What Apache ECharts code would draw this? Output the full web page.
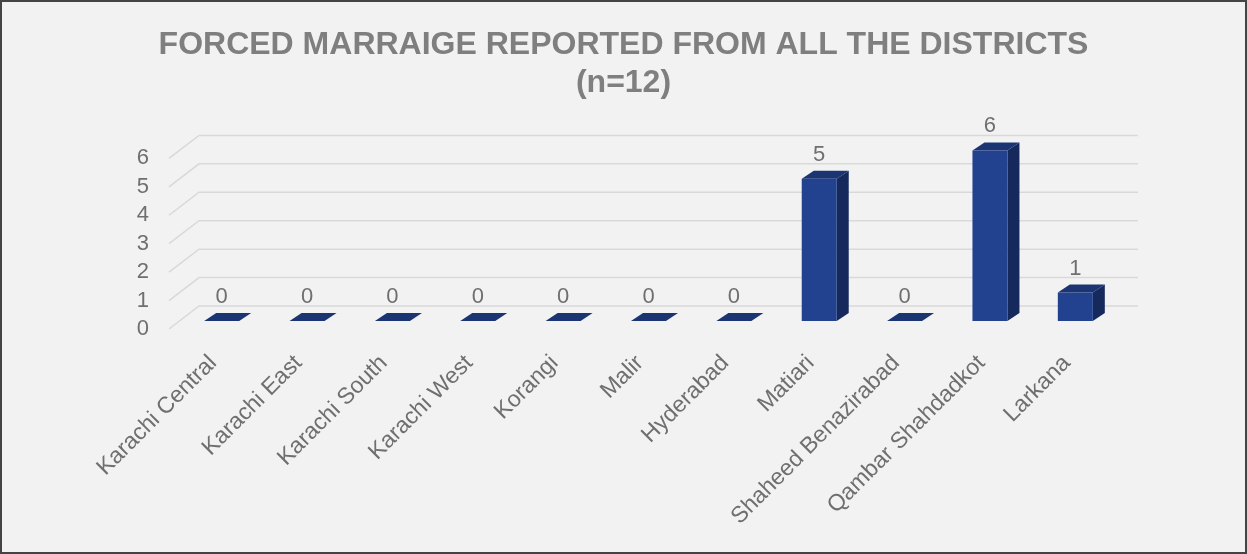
<!DOCTYPE html>
<html>
<head>
<meta charset="utf-8">
<script src="https://cdn.jsdelivr.net/npm/echarts@6/dist/echarts.min.js"></script>
<style>
  html, body { margin: 0; padding: 0; background: #f2f2f2; }
  #chart { width: 1247px; height: 554px; box-sizing: border-box; border: 2px solid #444; }
</style>
</head>
<body>
<div id="chart"></div>
<script>
// District names along the x axis
const districts = [
  'Karachi Central', 'Karachi East', 'Karachi South', 'Karachi West', 'Korangi',
  'Malir', 'Hyderabad', 'Matiari', 'Shaheed Benazirabad', 'Qambar Shahdadkot', 'Larkana'
];
// Reported forced-marriage cases per district
const cases = [0, 0, 0, 0, 0, 0, 0, 5, 0, 6, 1];
// Value-axis ticks
const yTicks = [0, 1, 2, 3, 4, 5, 6];

const FONT = '"Liberation Sans", Arial, sans-serif';
const TEXT = '#6f6f6f';

// Oblique projection offsets: back wall and bar depth
const WALL_DX = 20, WALL_DY = -15;   // bar plane -> back wall
const FRONT_DX = -10, FRONT_DY = 8;  // bar plane -> front edge
const DEPTH_DX = 12, DEPTH_DY = -8;  // bar depth

const chart = echarts.init(document.getElementById('chart'), null, { renderer: 'canvas' });

function wallItem(params, api) {
  const cs = params.coordSys;
  const y = api.coord([0, api.value(1)])[1];
  return {
    type: 'polyline',
    shape: {
      points: [
        [cs.x + FRONT_DX, y + FRONT_DY],
        [cs.x + WALL_DX, y + WALL_DY],
        [cs.x + cs.width + WALL_DX, y + WALL_DY]
      ]
    },
    style: { stroke: '#d9d9d9', lineWidth: 1.5, fill: null },
    silent: true
  };
}

function barItem(params, api) {
  const idx = api.value(0);
  const val = api.value(1);
  const base = api.coord([idx, 0]);
  const top = api.coord([idx, val]);
  const w = api.size([1, 0])[0] * 0.41;
  const x0 = base[0] - w / 2, x1 = base[0] + w / 2;
  const yb = base[1], yt = top[1];
  const children = [];
  if (val > 0) {
    children.push({
      type: 'polygon',
      shape: { points: [[x1, yb], [x1 + DEPTH_DX, yb + DEPTH_DY], [x1 + DEPTH_DX, yt + DEPTH_DY], [x1, yt]] },
      style: { fill: '#15295c' }
    });
  }
  children.push({
    type: 'polygon',
    shape: { points: [[x0, yt], [x1, yt], [x1 + DEPTH_DX, yt + DEPTH_DY], [x0 + DEPTH_DX, yt + DEPTH_DY]] },
    style: { fill: '#1b3472' }
  });
  if (val > 0) {
    children.push({
      type: 'rect',
      shape: { x: x0, y: yt, width: w, height: yb - yt },
      style: { fill: '#22418f' }
    });
  }
  children.push({
    type: 'text',
    style: {
      text: String(val), x: base[0], y: yt - 24,
      align: 'center', verticalAlign: 'middle',
      font: '22px ' + FONT, fill: TEXT
    }
  });
  return { type: 'group', children: children };
}

chart.setOption({
  backgroundColor: '#f2f2f2',
  animation: false,
  title: {
    text: 'FORCED MARRAIGE REPORTED FROM ALL THE DISTRICTS\n(n=12)',
    left: 'center',
    top: 19,
    textStyle: { fontFamily: FONT, fontSize: 32, fontWeight: 'bold', color: '#7f7f7f', lineHeight: 38 }
  },
  grid: [
    { left: 177, right: 127, top: 148.4, bottom: 231 },   // bar plane
    { left: 167, right: 137, top: 156.4, bottom: 223 }    // front edge (value labels)
  ],
  xAxis: [
    {
      type: 'category', gridIndex: 0, data: districts,
      axisLine: { show: false }, axisTick: { show: false },
      axisLabel: {
        interval: 0, rotate: 45, margin: 30, padding: [0, 12, 0, 0],
        fontFamily: FONT, fontSize: 23, color: TEXT
      }
    },
    { type: 'category', gridIndex: 1, data: districts, show: false }
  ],
  yAxis: [
    { type: 'value', gridIndex: 0, min: 0, max: 6, interval: 1, show: false, splitLine: { show: false } },
    {
      type: 'value', gridIndex: 1, min: 0, max: 6, interval: 1,
      axisLine: { show: false }, axisTick: { show: false }, splitLine: { show: false },
      axisLabel: { margin: 20, fontFamily: FONT, fontSize: 22, color: TEXT }
    }
  ],
  series: [
    {
      type: 'custom', xAxisIndex: 0, yAxisIndex: 0,
      renderItem: wallItem,
      data: yTicks.map(v => [0, v]),
      encode: { x: 0, y: 1 },
      z: 1
    },
    {
      type: 'custom', xAxisIndex: 0, yAxisIndex: 0,
      renderItem: barItem,
      data: cases.map((v, i) => [i, v]),
      encode: { x: 0, y: 1 },
      z: 2
    }
  ]
});
</script>
</body>
</html>
